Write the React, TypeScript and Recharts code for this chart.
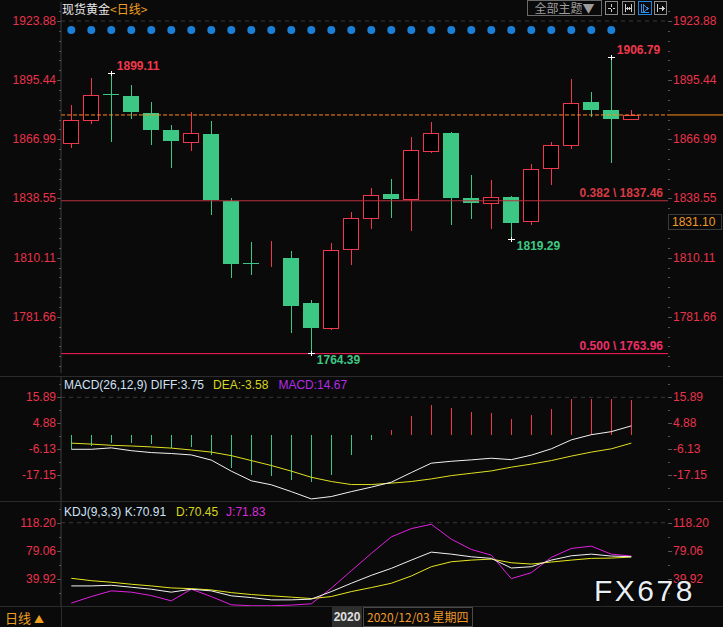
import React from 'react';
import { ComposedChart, Bar, Line, XAxis, YAxis, ReferenceLine, ReferenceDot } from 'recharts';

const FONT = '"Liberation Sans", Arial, sans-serif';
const CJK = '"Noto Sans CJK SC", "Liberation Sans", sans-serif';
const BG = '#0a0a0a';
const UP = '#f0384c';
const DOWN = '#3cc884';
const AXIS_RED = '#e8334a';
const GRID = '#3a3a3a';

// ---------- data ----------
const dayIndex = [0, 1, 2, 3, 4, 5, 6, 7, 8, 9, 10, 11, 12, 13, 14, 15, 16, 17, 18, 19, 20, 21, 22, 23, 24, 25, 26, 27, 28];
const opens = [1865.2, 1876.1, 1889.0, 1887.9, 1879.6, 1871.6, 1865.5, 1869.7, 1837.1, 1807.4, 1807.3, 1810.1, 1788.4, 1776.1, 1814.5, 1829.4, 1840.8, 1838.1, 1861.6, 1870.2, 1838.9, 1836.6, 1839.4, 1827.5, 1853.1, 1864.2, 1885.1, 1881.2, 1876.6];
const highs = [1883.6, 1896.6, 1899.11, 1893.2, 1884.7, 1874.0, 1879.9, 1875.9, 1838.9, 1817.8, 1818.2, 1813.4, 1789.9, 1817.3, 1832.2, 1843.7, 1848.0, 1868.2, 1875.4, 1870.6, 1850.0, 1847.6, 1839.9, 1855.3, 1865.8, 1896.0, 1889.9, 1906.79, 1881.2];
const lows = [1862.6, 1874.2, 1865.5, 1877.0, 1864.1, 1853.0, 1861.2, 1830.7, 1800.4, 1801.9, 1805.7, 1774.1, 1764.39, 1775.1, 1806.7, 1824.0, 1829.4, 1822.7, 1860.2, 1825.9, 1828.8, 1824.0, 1819.29, 1825.6, 1844.8, 1862.3, 1877.5, 1855.4, 1876.6];
const closes = [1876.3, 1888.4, 1888.6, 1879.9, 1871.6, 1866.0, 1870.2, 1837.6, 1807.2, 1807.1, 1807.6, 1787.0, 1776.4, 1813.9, 1829.3, 1840.2, 1838.4, 1861.8, 1870.0, 1838.9, 1836.2, 1839.2, 1827.0, 1852.7, 1864.2, 1884.4, 1880.9, 1876.6, 1878.7];
const signalDots = [1, 1, 1, 1, 1, 1, 1, 1, 1, 1, 1, 1, 1, 1, 1, 1, 1, 1, 1, 1, 1, 1, 1, 1, 1, 1, 1, 1, 0];
const SIGNAL_LEVEL = 1919.6;

const macdHist = [-6.1, -4.6, -3.4, -3.4, -4.0, -5.5, -5.1, -8.7, -14.2, -17.0, -17.4, -19.1, -20.2, -17.2, -8.6, -2.2, 2.0, 8.0, 12.7, 11.4, 9.7, 9.3, 6.8, 8.4, 11.1, 15.1, 15.2, 15.2, 14.67];
const diffLine = [-6.2, -6.2, -5.6, -6.8, -7.6, -8.0, -8.6, -10.8, -15.5, -19.6, -21.3, -24.2, -27.3, -26.3, -24.2, -22.3, -20.2, -16.1, -12.1, -11.3, -10.7, -10.0, -10.6, -8.7, -6.0, -2.2, 0.0, 1.3, 3.75];
const deaLine = [-3.6, -4.0, -4.5, -4.8, -5.2, -5.7, -6.5, -7.4, -8.9, -11.0, -13.1, -15.5, -18.1, -19.9, -21.2, -21.2, -20.6, -19.9, -18.8, -17.4, -16.4, -15.4, -13.8, -12.5, -11.0, -9.1, -7.4, -6.0, -3.58];

const kLine = [30.3, 30.3, 31.2, 28.5, 25.7, 21.6, 25.7, 23.4, 16.5, 14.1, 10.9, 10.9, 11.9, 22.4, 34.0, 45.0, 54.7, 66.2, 77.3, 74.5, 70.8, 68.6, 55.2, 57.0, 66.2, 72.2, 74.5, 71.8, 70.91];
const dLine = [40.9, 37.6, 35.4, 32.6, 30.3, 27.5, 26.5, 24.7, 21.0, 18.3, 16.5, 14.7, 12.7, 15.5, 22.4, 28.0, 34.0, 44.1, 57.0, 63.9, 66.2, 67.6, 62.5, 60.7, 63.5, 66.2, 68.6, 69.0, 70.45];
const jLine = [6.4, 15.5, 23.4, 21.6, 16.9, 9.5, 25.7, 15.5, 4.0, 2.7, 2.7, 3.6, 5.4, 27.1, 51.4, 75.5, 98.5, 110.0, 116.0, 95.3, 81.0, 73.1, 40.4, 48.7, 70.0, 82.4, 85.6, 74.5, 71.83];

const PRICE_TICKS = [1781.66, 1810.11, 1838.55, 1866.99, 1895.44, 1923.88];
const MACD_TICKS = [-17.15, -6.13, 4.88, 15.89];
const KDJ_TICKS = [39.92, 79.06, 118.2];

const PRICE_DOMAIN: [number, number] = [1754.65, 1933.01];
const MACD_DOMAIN: [number, number] = [-28.19, 24.96];
const KDJ_DOMAIN: [number, number] = [2.36, 148.4];
const X_DOMAIN: [number, number] = [-0.515, 29.835];
const X_EDGE = 32.62;

const FIBS = [
  { ratio: '0.382', value: 1837.46, line: '#b8303c', text: '#d83a44' },
  { ratio: '0.500', value: 1763.96, line: '#ff1f58', text: '#ee2f66' },
];
const EXTREMES = [
  { i: 2, value: 1899.11, color: UP, below: false },
  { i: 27, value: 1906.79, color: UP, below: false },
  { i: 12, value: 1764.39, color: DOWN, below: true },
  { i: 22, value: 1819.29, color: DOWN, below: true },
];

const rows = dayIndex.map((i) => ({
  i,
  open: opens[i],
  high: highs[i],
  low: lows[i],
  close: closes[i],
  range: [lows[i], highs[i]],
  dot: signalDots[i] ? SIGNAL_LEVEL : null,
  macd: macdHist[i],
  diff: diffLine[i],
  dea: deaLine[i],
  k: kLine[i],
  d: dLine[i],
  j: jLine[i],
}));

function withMinors(majors: number[], parts: number, domain: [number, number]) {
  const s = [...majors].sort((a, b) => a - b);
  const out: number[] = [...s];
  for (let m = 0; m < s.length - 1; m++) {
    const st = (s[m + 1] - s[m]) / parts;
    for (let k = 1; k < parts; k++) out.push(s[m] + k * st);
  }
  const step = (s[1] - s[0]) / parts;
  for (let v = s[0] - step; v >= domain[0]; v -= step) out.push(v);
  for (let v = s[s.length - 1] + step; v <= domain[1]; v += step) out.push(v);
  return out.sort((a, b) => a - b);
}

const makeTick = (side: 'left' | 'right', majors: number[]) => (props: any) => {
  const { x, y, payload } = props;
  const major = majors.some((m) => Math.abs(m - payload.value) < 1e-6);
  const dir = side === 'left' ? -1 : 1;
  const yy = Math.round(y) + 0.5;
  return (
    <g>
      <line x1={x} x2={x + dir * (major ? 4 : 2)} y1={yy} y2={yy} stroke="#555" shapeRendering="crispEdges" />
      {major && (
        <text
          x={x + dir * 5}
          y={y}
          textAnchor={side === 'left' ? 'end' : 'start'}
          dominantBaseline="central"
          fill={AXIS_RED}
          fontSize={12}
          fontFamily={FONT}
        >
          {payload.value.toFixed(2)}
        </text>
      )}
    </g>
  );
};

const Candle = (props: any) => {
  const { x, y, width, height, payload } = props;
  if (x == null || y == null || !payload) return null;
  const top = Math.min(y, y + height);
  const bottom = Math.max(y, y + height);
  const { open, close, high, low } = payload;
  const span = high - low;
  const toY = (v: number) => (span === 0 ? top : top + ((high - v) / span) * (bottom - top));
  const up = close >= open;
  const color = up ? UP : DOWN;
  const cx = Math.floor(x + width / 2) + 0.5;
  const bTop = Math.round(toY(Math.max(open, close)));
  const bBot = Math.round(toY(Math.min(open, close)));
  if (up) {
    return (
      <g shapeRendering="crispEdges">
        <line x1={cx} x2={cx} y1={Math.round(top)} y2={bTop} stroke={color} />
        <line x1={cx} x2={cx} y1={bBot} y2={Math.round(bottom)} stroke={color} />
        <rect x={cx - 8} y={bTop + 0.5} width={15} height={Math.max(bBot - bTop, 0)} fill="#000" stroke={color} />
      </g>
    );
  }
  return (
    <g shapeRendering="crispEdges">
      <line x1={cx} x2={cx} y1={Math.round(top)} y2={Math.round(bottom)} stroke={color} />
      <rect x={cx - 8.5} y={bTop} width={16} height={Math.max(bBot - bTop, 1)} fill={color} />
    </g>
  );
};

const HistBar = (props: any) => {
  const { x, y, width, height, payload } = props;
  if (x == null || !payload) return null;
  const cx = Math.floor(x + width / 2) + 0.5;
  const color = payload.macd >= 0 ? UP : DOWN;
  return <line x1={cx} x2={cx} y1={y} y2={y + height} stroke={color} shapeRendering="crispEdges" />;
};

const ExtremeMark = (props: any) => {
  const { cx, cy, color, below, label } = props;
  if (cx == null) return null;
  const px = Math.floor(cx) + 0.5;
  const py = Math.round(cy) + 0.5;
  return (
    <g>
      <line x1={px - 3.5} x2={px + 3.5} y1={py} y2={py} stroke="#fff" shapeRendering="crispEdges" />
      <line x1={px} x2={px} y1={py - 2.5} y2={py + 2.5} stroke="#fff" shapeRendering="crispEdges" />
      <text
        x={cx + 5.5}
        y={below ? cy + 7.5 : cy - 7}
        fill={color}
        fontSize={12}
        fontWeight="bold"
        fontFamily={FONT}
        dominantBaseline="central"
      >
        {label}
      </text>
    </g>
  );
};

const FibLabel = (props: any) => {
  const { viewBox, text, color } = props;
  if (!viewBox) return null;
  return (
    <text
      x={viewBox.x + viewBox.width - 5}
      y={viewBox.y - 7.5}
      textAnchor="end"
      dominantBaseline="central"
      fill={color}
      fontSize={12}
      fontWeight="bold"
      fontFamily={FONT}
    >
      {text}
    </text>
  );
};

const priceTicks = withMinors(PRICE_TICKS, 6, PRICE_DOMAIN);
const macdTicks = withMinors(MACD_TICKS, 2, MACD_DOMAIN);
const kdjTicks = withMinors(KDJ_TICKS, 2, KDJ_DOMAIN);

function Axes({ domain, ticks, majors }: { domain: [number, number]; ticks: number[]; majors: number[] }) {
  return null;
}

const xAxis = (
  <XAxis dataKey="i" type="number" domain={X_DOMAIN} allowDataOverflow hide />
);

export default function App() {
  const last = closes[closes.length - 1];
  return (
    <div
      style={{
        position: 'fixed',
        left: 0,
        top: 0,
        width: 723,
        height: 627,
        background: BG,
        overflow: 'hidden',
        fontFamily: FONT,
      }}
    >
      {/* main price panel */}
      <div style={{ position: 'absolute', left: 0, top: 0 }}>
        <ComposedChart width={723} height={376} data={rows} margin={{ top: 2, right: 0, bottom: 3, left: 0 }}>
          <XAxis dataKey="i" type="number" domain={X_DOMAIN} allowDataOverflow hide />
          <YAxis
            yAxisId="l"
            orientation="left"
            width={61}
            type="number"
            domain={PRICE_DOMAIN}
            allowDataOverflow
            ticks={priceTicks}
            interval={0}
            tickSize={0}
            tickMargin={0}
            tickLine={false}
            axisLine={{ stroke: '#3c3c3c' }}
            tick={makeTick('left', PRICE_TICKS)}
          />
          <YAxis
            yAxisId="r"
            orientation="right"
            width={55}
            type="number"
            domain={PRICE_DOMAIN}
            allowDataOverflow
            ticks={priceTicks}
            interval={0}
            tickSize={0}
            tickMargin={0}
            tickLine={false}
            axisLine={false}
            tick={makeTick('right', PRICE_TICKS)}
          />
          <ReferenceLine yAxisId="l" y={PRICE_TICKS[PRICE_TICKS.length - 1]} stroke={GRID} strokeDasharray="4 4" />
          {FIBS.map((f) => (
            <ReferenceLine
              key={f.ratio}
              yAxisId="l"
              y={f.value}
              stroke={f.line}
              strokeWidth={1}
              label={<FibLabel text={`${f.ratio} \\ ${f.value.toFixed(2)}`} color={f.text} />}
            />
          ))}
          <ReferenceLine yAxisId="l" y={last} stroke="#ff8c1a" strokeDasharray="4 2" />
          <ReferenceLine
            yAxisId="l"
            ifOverflow="visible"
            segment={[
              { x: X_DOMAIN[1], y: last },
              { x: X_EDGE, y: last },
            ]}
            stroke="#ff8c1a"
          />
          <Bar yAxisId="l" dataKey="range" barSize={16} isAnimationActive={false} shape={(p: any) => <Candle {...p} />} />
          <Line
            yAxisId="l"
            dataKey="dot"
            stroke="none"
            strokeWidth={0}
            isAnimationActive={false}
            dot={{ r: 4, fill: '#1a7fd6', stroke: 'none' }}
            activeDot={false}
          />
          {EXTREMES.map((e) => (
            <ReferenceDot
              key={e.i}
              yAxisId="l"
              x={e.i}
              y={e.value}
              r={0}
              shape={(p: any) => <ExtremeMark {...p} color={e.color} below={e.below} label={e.value.toFixed(2)} />}
            />
          ))}
        </ComposedChart>
      </div>

      {/* MACD panel */}
      <div style={{ position: 'absolute', left: 0, top: 376 }}>
        <ComposedChart width={723} height={125} data={rows} margin={{ top: 0, right: 0, bottom: 0, left: 0 }}>
          <XAxis dataKey="i" type="number" domain={X_DOMAIN} allowDataOverflow hide />
          <YAxis
            yAxisId="l"
            orientation="left"
            width={61}
            type="number"
            domain={MACD_DOMAIN}
            allowDataOverflow
            ticks={macdTicks}
            interval={0}
            tickSize={0}
            tickMargin={0}
            tickLine={false}
            axisLine={{ stroke: '#3c3c3c' }}
            tick={makeTick('left', MACD_TICKS)}
          />
          <YAxis
            yAxisId="r"
            orientation="right"
            width={55}
            type="number"
            domain={MACD_DOMAIN}
            allowDataOverflow
            ticks={macdTicks}
            interval={0}
            tickSize={0}
            tickMargin={0}
            tickLine={false}
            axisLine={false}
            tick={makeTick('right', MACD_TICKS)}
          />
          <ReferenceLine yAxisId="l" y={MACD_TICKS[MACD_TICKS.length - 1]} stroke={GRID} strokeDasharray="4 4" />
          <Bar yAxisId="l" dataKey="macd" barSize={2} isAnimationActive={false} shape={(p: any) => <HistBar {...p} />} />
          <Line yAxisId="l" dataKey="dea" stroke="#e0e020" strokeWidth={1} dot={false} activeDot={false} isAnimationActive={false} />
          <Line yAxisId="l" dataKey="diff" stroke="#f2f2f2" strokeWidth={1} dot={false} activeDot={false} isAnimationActive={false} />
        </ComposedChart>
      </div>

      {/* KDJ panel */}
      <div style={{ position: 'absolute', left: 0, top: 501 }}>
        <ComposedChart width={723} height={105} data={rows} margin={{ top: 0, right: 0, bottom: 0, left: 0 }}>
          <XAxis dataKey="i" type="number" domain={X_DOMAIN} allowDataOverflow hide />
          <YAxis
            yAxisId="l"
            orientation="left"
            width={61}
            type="number"
            domain={KDJ_DOMAIN}
            allowDataOverflow
            ticks={kdjTicks}
            interval={0}
            tickSize={0}
            tickMargin={0}
            tickLine={false}
            axisLine={{ stroke: '#3c3c3c' }}
            tick={makeTick('left', KDJ_TICKS)}
          />
          <YAxis
            yAxisId="r"
            orientation="right"
            width={55}
            type="number"
            domain={KDJ_DOMAIN}
            allowDataOverflow
            ticks={kdjTicks}
            interval={0}
            tickSize={0}
            tickMargin={0}
            tickLine={false}
            axisLine={false}
            tick={makeTick('right', KDJ_TICKS)}
          />
          <ReferenceLine yAxisId="l" y={KDJ_TICKS[KDJ_TICKS.length - 1]} stroke={GRID} strokeDasharray="4 4" />
          <Line yAxisId="l" dataKey="j" stroke="#e020e0" strokeWidth={1} dot={false} activeDot={false} isAnimationActive={false} />
          <Line yAxisId="l" dataKey="d" stroke="#e6e620" strokeWidth={1} dot={false} activeDot={false} isAnimationActive={false} />
          <Line yAxisId="l" dataKey="k" stroke="#f2f2f2" strokeWidth={1} dot={false} activeDot={false} isAnimationActive={false} />
        </ComposedChart>
      </div>

      {/* separators */}
      <div style={{ position: 'absolute', left: 0, top: 376, width: 723, height: 1, background: '#2c2c2c' }} />
      <div style={{ position: 'absolute', left: 0, top: 501, width: 723, height: 1, background: '#2c2c2c' }} />
      <div style={{ position: 'absolute', left: 0, top: 606, width: 723, height: 1, background: '#2c2c2c' }} />
      <div style={{ position: 'absolute', left: 61, top: 606, width: 1, height: 21, background: '#2c2c2c' }} />

      {/* header */}
      <div style={{ position: 'absolute', left: 62, top: 1, fontFamily: CJK, fontSize: 12, lineHeight: '16px', whiteSpace: 'nowrap' }}>
        <span style={{ color: '#e8e8e8' }}>现货黄金</span>
        <span style={{ color: '#f0a020' }}>&lt;日线&gt;</span>
      </div>
      <div
        style={{
          position: 'absolute',
          left: 527,
          top: 0,
          width: 73,
          height: 14,
          border: '1px solid #6a6a6a',
          color: '#9c9c9c',
          fontFamily: CJK,
          fontSize: 12,
          lineHeight: '14px',
          textAlign: 'center',
          whiteSpace: 'nowrap',
        }}
      >
        全部主题▼
      </div>
      <svg style={{ position: 'absolute', left: 604, top: 0 }} width={64} height={17}>
        <g fill="none" strokeWidth={1} shapeRendering="crispEdges">
          <rect x={1.5} y={1.5} width={12} height={13} stroke="#8a8a8a" />
          <path d="M7.5 4 V7 M7.5 9 V12 M4 8.5 H6.5 M8.5 8.5 H11" stroke="#cfcfcf" />
          <rect x={18.5} y={1.5} width={12} height={13} stroke="#8a8a8a" />
          <path d="M21.5 4 V12 M27.5 4 V12 M22 8.5 H27 M23.5 7 V10 M25.5 7 V10" stroke="#cfcfcf" />
          <rect x={34.5} y={1.5} width={13} height={13} stroke="#1f86e0" />
          <path d="M37.5 4 V12.5 H45 M39.5 5 L44 8.5 L39.5 12 Z" stroke="#2a90ea" />
          <rect x={50.5} y={1.5} width={12} height={13} stroke="#8a8a8a" />
          <path d="M53.5 4 V12 M55 8.5 H60 M58 6.5 L60 8.5 L58 10.5" stroke="#cfcfcf" />
        </g>
      </svg>

      {/* indicator headers */}
      <div style={{ position: 'absolute', left: 64, top: 377, fontSize: 12, lineHeight: '16px', whiteSpace: 'nowrap' }}>
        <span style={{ color: '#cfe2f6' }}>MACD(26,12,9) DIFF:3.75</span>
        <span style={{ color: '#d6d61c', marginLeft: 9 }}>DEA:-3.58</span>
        <span style={{ color: '#b42ce8', marginLeft: 10 }}>MACD:14.67</span>
      </div>
      <div style={{ position: 'absolute', left: 64, top: 504, fontSize: 12, lineHeight: '16px', whiteSpace: 'nowrap' }}>
        <span style={{ color: '#cfe2f6' }}>KDJ(9,3,3) K:70.91</span>
        <span style={{ color: '#d6d61c', marginLeft: 10 }}>D:70.45</span>
        <span style={{ color: '#d82ad8', marginLeft: 8 }}>J:71.83</span>
      </div>

      {/* crosshair value box */}
      <div
        style={{
          position: 'absolute',
          left: 668,
          top: 214,
          width: 54,
          height: 16,
          border: '1px solid #3a3a3a',
          boxSizing: 'border-box',
          color: '#f09a28',
          fontSize: 12,
          lineHeight: '14px',
          paddingLeft: 3,
          background: BG,
        }}
      >
        1831.10
      </div>

      {/* bottom bar */}
      <div style={{ position: 'absolute', left: 5, top: 609, fontFamily: CJK, fontSize: 13, lineHeight: '17px', color: '#f0a020', whiteSpace: 'nowrap' }}>
        日线 <span style={{ fontSize: 10 }}>▲</span>
      </div>
      <div
        style={{
          position: 'absolute',
          left: 332,
          top: 607,
          width: 30,
          height: 20,
          background: '#2e2e2e',
          color: '#e0e0e0',
          fontWeight: 'bold',
          fontSize: 12,
          lineHeight: '20px',
          textAlign: 'center',
        }}
      >
        2020
      </div>
      <div
        style={{
          position: 'absolute',
          left: 363,
          top: 607,
          width: 110,
          height: 20,
          border: '1px solid #4a4a4a',
          boxSizing: 'border-box',
          color: '#f09a28',
          fontFamily: CJK,
          fontSize: 12,
          lineHeight: '18px',
          paddingLeft: 3,
          whiteSpace: 'nowrap',
          background: BG,
        }}
      >
        2020/12/03 星期四
      </div>

      {/* watermark */}
      <div
        style={{
          position: 'absolute',
          left: 594,
          top: 576,
          fontSize: 30,
          lineHeight: '30px',
          letterSpacing: 2.5,
          color: '#e8eef4',
          textShadow: '1px 1px 1px #000, -1px -1px 1px #000',
          whiteSpace: 'nowrap',
        }}
      >
        FX678
      </div>
    </div>
  );
}
